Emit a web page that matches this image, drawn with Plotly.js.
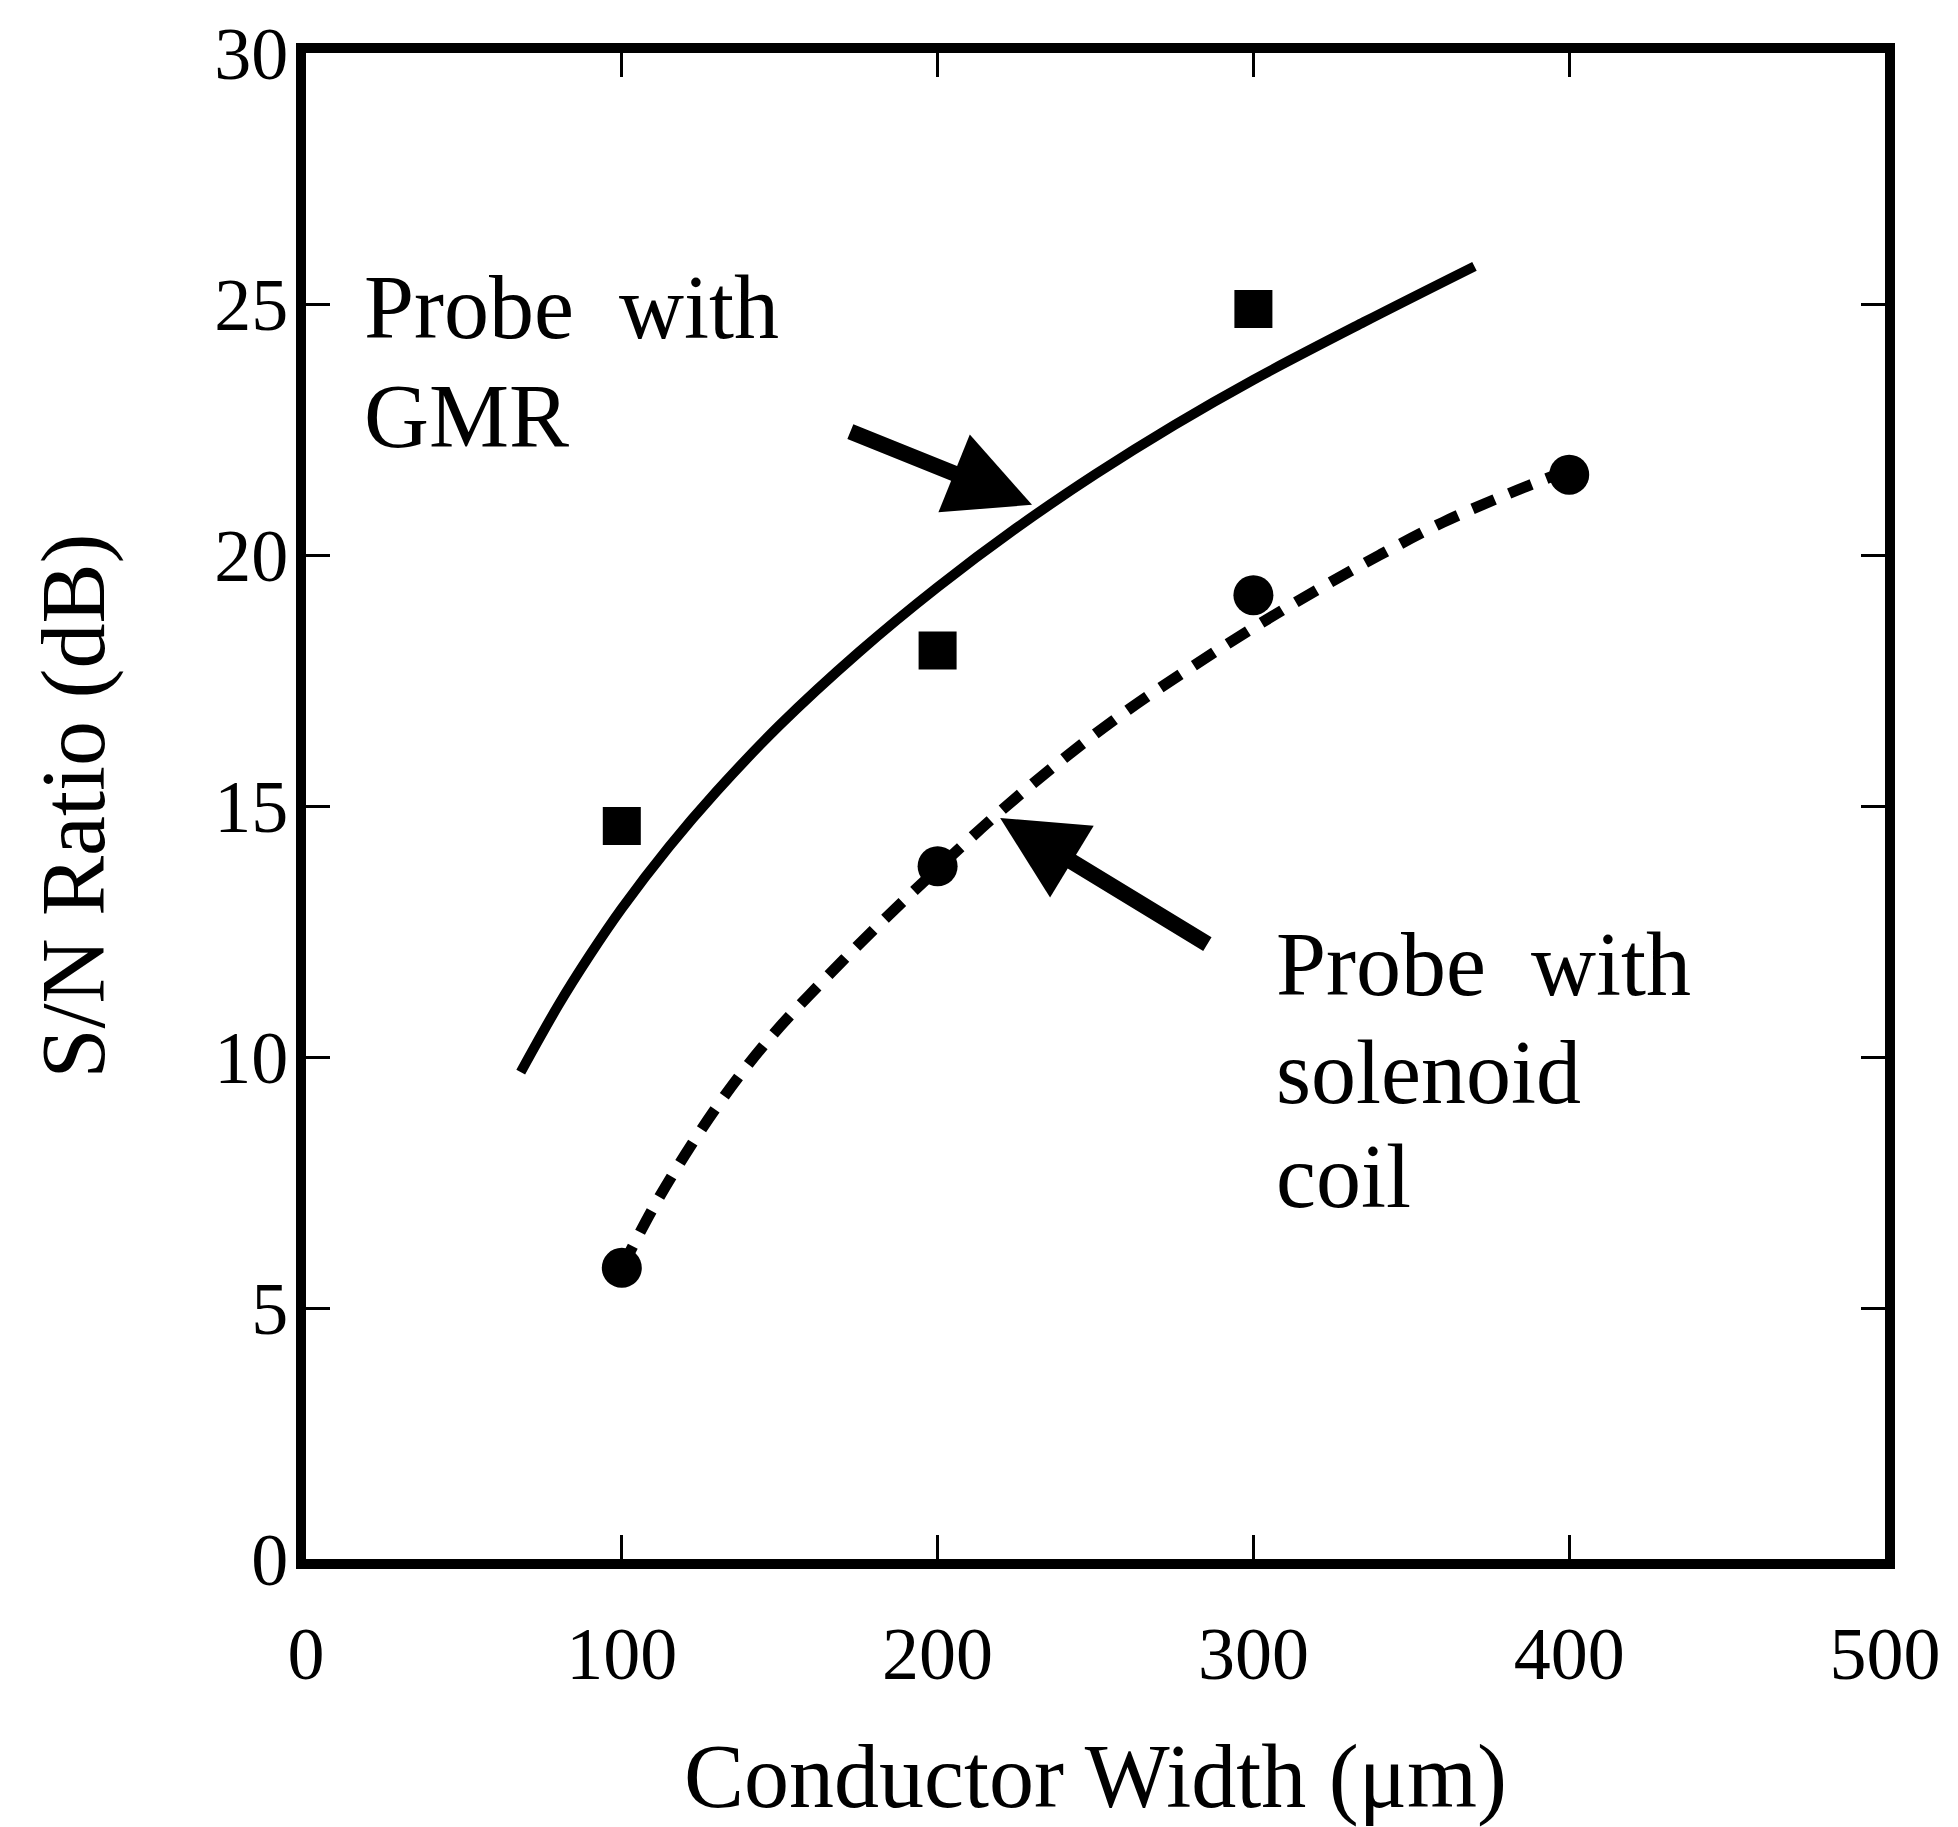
<!DOCTYPE html>
<html>
<head>
<meta charset="utf-8">
<script src="https://cdn.plot.ly/plotly-3.0.1.min.js"></script>
<style>html,body{margin:0;padding:0;background:#fff;}#chart{width:1958px;height:1827px;}</style>
</head>
<body>
<div id="chart"></div>
<script>
// Measured points (conductor width in µm, S/N ratio in dB)
const gmrX = [100, 200, 300];
const gmrY = [14.6, 18.1, 24.9];
const coilX = [100, 200, 300, 400];
const coilY = [5.8, 13.8, 19.2, 21.6];

// Fitted curves
const gmrFitX = [68, 80, 90, 100, 115, 130, 150, 175, 200, 225, 250, 275, 300, 335, 370];
const gmrFitY = [9.7, 11.04, 12.04, 12.96, 14.19, 15.29, 16.61, 18.06, 19.36, 20.54, 21.61, 22.59, 23.49, 24.64, 25.75];
const coilFitX = [100, 110, 120, 130, 140, 150, 165, 180, 200, 220, 240, 260, 280, 300, 320, 340, 360, 380, 400];
const coilFitY = [5.8, 7.0, 8.05, 9.0, 9.85, 10.6, 11.6, 12.55, 13.75, 14.9, 15.95, 16.9, 17.75, 18.55, 19.3, 20.0, 20.65, 21.2, 21.7];

// Axis ticks
const xTicks = [0, 100, 200, 300, 400, 500];
const yTicks = [0, 5, 10, 15, 20, 25, 30];

// Text labels
const gmrLabel = ["Probe  with", "GMR"];
const coilLabel = ["Probe  with", "solenoid", "coil"];

const FONT = "Liberation Serif, Times New Roman, serif";

const traces = [
  {x: gmrFitX, y: gmrFitY, mode: "lines", line: {color: "#000", width: 10, shape: "spline", smoothing: 1}, hoverinfo: "skip"},
  {x: coilFitX, y: coilFitY, mode: "lines", line: {color: "#000", width: 11, dash: "24px,16px", shape: "spline", smoothing: 1}, hoverinfo: "skip"},
  {x: gmrX, y: gmrY, mode: "markers", marker: {symbol: "square", size: 38, color: "#000"}},
  {x: coilX, y: coilY, mode: "markers", marker: {symbol: "circle", size: 40, color: "#000"}}
];

const labelFont = {family: FONT, size: 90, color: "#000"};
const annotations = [
  {x: 17.7, y: 24.93, xref: "x", yref: "y", text: gmrLabel[0], showarrow: false, xanchor: "left", yanchor: "middle", font: labelFont},
  {x: 17.7, y: 22.76, xref: "x", yref: "y", text: gmrLabel[1], showarrow: false, xanchor: "left", yanchor: "middle", font: labelFont},
  {x: 306.5, y: 11.84, xref: "x", yref: "y", text: coilLabel[0], showarrow: false, xanchor: "left", yanchor: "middle", font: labelFont},
  {x: 306.5, y: 9.69, xref: "x", yref: "y", text: coilLabel[1], showarrow: false, xanchor: "left", yanchor: "middle", font: labelFont},
  {x: 306.5, y: 7.62, xref: "x", yref: "y", text: coilLabel[2], showarrow: false, xanchor: "left", yanchor: "middle", font: labelFont},
  {x: 229.9, y: 21.0, ax: 171.9, ay: 22.47, xref: "x", yref: "y", axref: "x", ayref: "y", text: "", showarrow: true,
   arrowhead: 2, arrowsize: 1.05, arrowwidth: 16, arrowcolor: "#000", standoff: 0},
  {x: 219.8, y: 14.76, ax: 285.9, ay: 12.23, xref: "x", yref: "y", axref: "x", ayref: "y", text: "", showarrow: true,
   arrowhead: 2, arrowsize: 1.05, arrowwidth: 16, arrowcolor: "#000", standoff: 0}
];

const layout = {
  width: 1958, height: 1827,
  margin: {l: 306, r: 73, t: 53, b: 268},
  paper_bgcolor: "#fff", plot_bgcolor: "#fff",
  showlegend: false,
  font: {family: FONT, color: "#000", size: 74},
  xaxis: {
    range: [0, 500], tickvals: xTicks, ticktext: xTicks.map(String),
    showgrid: false, zeroline: false,
    showline: true, linewidth: 10, linecolor: "#000", mirror: "ticks",
    ticks: "inside", ticklen: 24, tickwidth: 3, tickcolor: "#000",
    tickfont: {family: FONT, size: 74, color: "#000"},
    ticklabelstandoff: 21,
    title: {text: "Conductor Width (μm)", font: {family: FONT, size: 90, color: "#000"}, standoff: 58}
  },
  yaxis: {
    range: [0, 30], tickvals: yTicks, ticktext: yTicks.map(String),
    showgrid: false, zeroline: false,
    showline: true, linewidth: 10, linecolor: "#000", mirror: "ticks",
    ticks: "inside", ticklen: 24, tickwidth: 3, tickcolor: "#000",
    tickfont: {family: FONT, size: 74, color: "#000"},
    ticklabelstandoff: -7,
    title: {text: "S/N Ratio (dB)", font: {family: FONT, size: 90, color: "#000"}, standoff: 84}
  },
  annotations: annotations
};

Plotly.newPlot("chart", traces, layout, {displayModeBar: false, staticPlot: true});
</script>
</body>
</html>
